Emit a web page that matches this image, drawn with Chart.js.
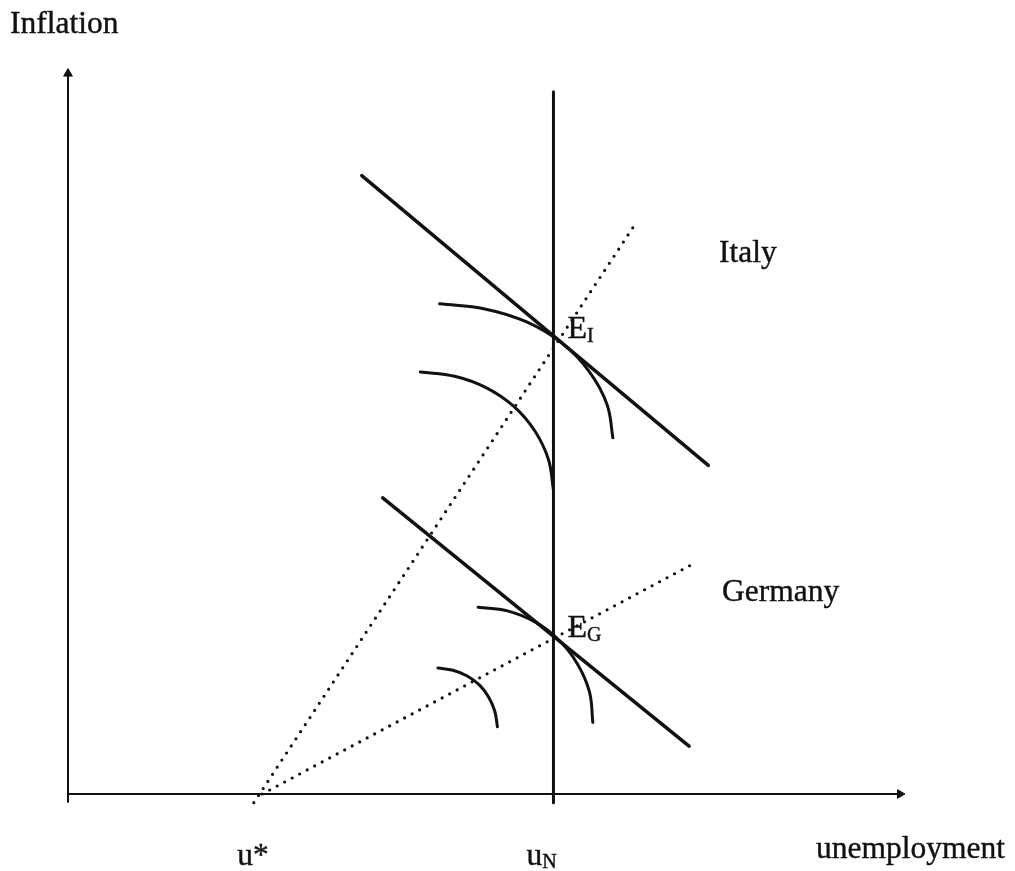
<!DOCTYPE html>
<html>
<head>
<meta charset="utf-8">
<title>Inflation and unemployment: Italy and Germany</title>
<script src="https://cdn.jsdelivr.net/npm/chart.js@4.4.1/dist/chart.umd.min.js"></script>
<style>
  body { margin: 0; background: #fff; }
  canvas { display: block; }
</style>
</head>
<body>
<canvas id="chart" width="1015" height="871"></canvas>
<script>
// diagram units: unemployment on x, inflation on y, origin where the axes cross
const naturalRate = 5.8;   // u_N
const targetRate = 2.32;   // u*

const yAxisLine = [{x: 0, y: -0.12}, {x: 0, y: 9.95}];
const xAxisLine = [{x: 0, y: 0}, {x: 9.94, y: 0}];
const naturalLine = [{x: naturalRate, y: -0.12}, {x: naturalRate, y: 9.7}];

const italyLine = [{x: 3.51, y: 8.54}, {x: 7.65, y: 4.54}];
const germanyLine = [{x: 3.76, y: 4.09}, {x: 7.42, y: 0.66}];

const italyRay = [{x: 2.22, y: -0.12}, {x: 6.77, y: 7.86}];
const germanyRay = [{x: targetRate, y: 0}, {x: 7.47, y: 3.18}];

// indifference curves, points read along each arc
const italyHigh = [
  {x: 4.44, y: 6.77}, {x: 4.98, y: 6.70}, {x: 5.48, y: 6.52}, {x: 5.91, y: 6.22},
  {x: 6.23, y: 5.83}, {x: 6.44, y: 5.38}, {x: 6.51, y: 4.92}
];
const italyLow = [
  {x: 4.21, y: 5.83}, {x: 4.62, y: 5.77}, {x: 5.00, y: 5.61}, {x: 5.33, y: 5.35},
  {x: 5.58, y: 5.01}, {x: 5.74, y: 4.62}, {x: 5.80, y: 4.20}
];
const germanyHigh = [
  {x: 4.90, y: 2.58}, {x: 5.25, y: 2.53}, {x: 5.59, y: 2.37}, {x: 5.87, y: 2.12},
  {x: 6.09, y: 1.79}, {x: 6.23, y: 1.41}, {x: 6.27, y: 0.99}
];
const germanyLow = [
  {x: 4.42, y: 1.74}, {x: 4.60, y: 1.71}, {x: 4.77, y: 1.63}, {x: 4.92, y: 1.50},
  {x: 5.03, y: 1.33}, {x: 5.10, y: 1.14}, {x: 5.13, y: 0.93}
];

const equilibria = [
  {main: 'E', sub: 'I', x: naturalRate, y: 6.31},
  {main: 'E', sub: 'G', x: naturalRate, y: 2.18}
];

// canvas placement of the diagram
const originPx = {x: 68, y: 794};
const unitPx = {x: 83.7, y: 72.4};
const W = 1015, H = 871;

const ink = '#111';
const FONT = '"Liberation Serif", "Times New Roman", serif';

function solid(data, width) {
  return {data, showLine: true, borderColor: ink, borderWidth: width, pointRadius: 0, tension: 0, borderCapStyle: 'round'};
}
function dotted(data) {
  return {data, showLine: true, borderColor: ink, borderWidth: 3.2, pointRadius: 0,
    borderDash: [0, 8.5], borderCapStyle: 'round'};
}
function curve(data) {
  return {data, showLine: true, borderColor: ink, borderWidth: 3, pointRadius: 0,
    tension: 0.4, borderCapStyle: 'round'};
}
function arrowAxis(data, rotation) {
  return {data, showLine: true, borderColor: ink, borderWidth: 2, backgroundColor: ink,
    pointStyle: 'triangle', pointRadius: [0, 5], pointRotation: [0, rotation], pointBorderWidth: 1};
}

const labelPlugin = {
  id: 'diagramLabels',
  afterDatasetsDraw(chart) {
    const {ctx, scales: {x, y}} = chart;
    ctx.save();
    ctx.fillStyle = ink;
    ctx.strokeStyle = ink;
    ctx.lineWidth = 0.4;
    ctx.textBaseline = 'alphabetic';

    const put = (txt, left, base) => {
      ctx.fillText(txt, left, base);
      ctx.strokeText(txt, left, base);
    };
    const withSub = (main, sub, left, base, size, subSize, drop) => {
      ctx.font = size + 'px ' + FONT;
      put(main, left, base);
      const w = ctx.measureText(main).width;
      ctx.font = subSize + 'px ' + FONT;
      put(sub, left + w, base + drop);
    };

    ctx.font = '31.5px ' + FONT;
    put('Inflation', 10, 33);
    put('Italy', 719, 262);
    put('Germany', 722, 601);
    put('unemployment', 816, 858);
    put('u*', x.getPixelForValue(targetRate) - 25, 865);
    withSub('u', 'N', x.getPixelForValue(naturalRate) - 27, 865, 31.5, 20, 3);

    equilibria.forEach(e => {
      withSub(e.main, e.sub, x.getPixelForValue(e.x) + 14, y.getPixelForValue(e.y) + 1, 32, 20, 4);
    });
    ctx.restore();
  }
};

new Chart(document.getElementById('chart'), {
  type: 'scatter',
  data: {
    datasets: [
      arrowAxis(yAxisLine, 0),
      arrowAxis(xAxisLine, 90),
      solid(naturalLine, 3),
      solid(italyLine, 3.5),
      solid(germanyLine, 3.5),
      dotted(italyRay),
      dotted(germanyRay),
      curve(italyHigh),
      curve(italyLow),
      curve(germanyHigh),
      curve(germanyLow)
    ]
  },
  options: {
    responsive: false,
    animation: false,
    events: [],
    layout: {padding: 0, autoPadding: false},
    scales: {
      x: {type: 'linear', display: false,
        min: -originPx.x / unitPx.x, max: (W - originPx.x) / unitPx.x},
      y: {type: 'linear', display: false,
        min: -(H - originPx.y) / unitPx.y, max: originPx.y / unitPx.y}
    },
    plugins: {legend: {display: false}, tooltip: {enabled: false}}
  },
  plugins: [labelPlugin]
});
</script>
</body>
</html>
